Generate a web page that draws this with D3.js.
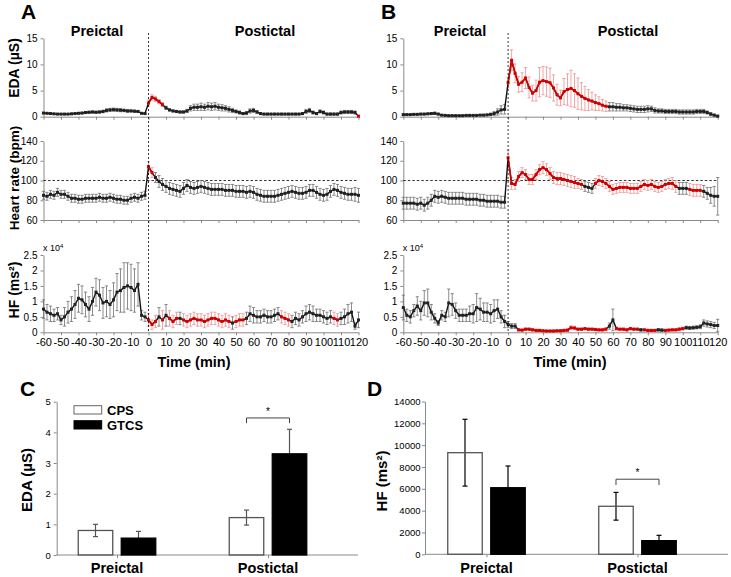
<!DOCTYPE html>
<html><head><meta charset="utf-8">
<script src="https://cdn.jsdelivr.net/npm/d3@7"></script>
<style>
body{margin:0;background:#fff}
svg{display:block}
text{font-family:"Liberation Sans",Arial,Helvetica,sans-serif}
</style>
</head><body>
<svg id="c" width="731" height="577"></svg>
<script>
// ---------- DATA ----------
// time grid (min): preictal -60..-2, postictal 0..120, every 2 min
const times = d3.range(-60, 121, 2);
const xTicks = [-60,-50,-40,-30,-20,-10,0,10,20,30,40,50,60,70,80,90,100,110,120];

// Panel A (CPS)
const A_eda_pre  = [.7,.65,.6,.55,.5,.5,.5,.5,.55,.6,.65,.7,.8,.85,.9,.85,.9,1.0,1.2,1.3,1.35,1.3,1.25,1.2,1.1,1.1,1.05,1.0,.65,.6];
const A_eda_post = [2.6,3.7,3.4,2.9,2.3,1.7,1.3,1.1,1.0,0.9, 0.9,1.1,1.6,1.8,1.8,1.9,1.8,2.0,1.9,2.0, 1.8,1.7,1.6,1.4,1.2,1.0,0.8,0.6,0.7,1.1, 1.2,0.9,0.6,0.5,0.5,0.5,0.5,0.5,0.5,0.5, 0.5,0.5,0.5,0.5,0.6,1.0,1.2,0.8,0.6,1.0, 0.8,0.5,0.5,0.5,0.5,0.8,0.9,0.9,0.9,0.8, 0.1];
const A_eda_preErr  = [.1,.1,.1,.1,.1,.1,.1,.1,.1,.1,.1,.15,.2,.2,.2,.2,.2,.25,.3,.3,.3,.3,.3,.25,.25,.2,.2,.2,.1,.1];
const A_eda_postErr = [.6,.5,.5,.4,.4,.3,.2,.2,.2,.2, .2,.3,.5,.6,.6,.7,.6,.7,.7,.7, .6,.6,.5,.5,.4,.3,.3,.2,.3,.4, .4,.3,.2,.15,.15,.15,.15,.15,.15,.15, .15,.15,.15,.15,.2,.4,.4,.3,.2,.3, .3,.2,.2,.2,.2,.3,.3,.3,.3,.3, .1];
const A_eda_red = [[0,8],[120,120]];

const A_hr_pre  = [85,84,86,85,88,86,86,84,82,82,81,81,82,82,82,82,83,82,82,83,82,81,81,80,80,82,83,82,84,85];
const A_hr_post = [114,108,103,99,96,94,92,91,90,89, 92,95,93,92,93,94,93,92,91,91, 91,91,90,90,90,89,89,89,88,89, 88,86,85,84,84,84,84,85,86,87, 88,89,88,87,87,88,90,90,88,86, 85,86,89,91,90,88,87,86,86,86, 85];
const A_hr_preErr  = [4,4,4,4,4,4,4,4,4,4,4,4,4,4,4,4,4,4,4,4,4,4,4,4,4,4,4,4,4,4];
const A_hr_postErr = [5,5,5,6,6,6,6,6,6,6, 6,6,6,6,6,6,6,6,6,6, 6,6,6,6,6,6,6,6,6,6, 6,6,6,6,6,6,6,6,6,6, 6,6,6,6,6,6,6,6,6,6, 6,6,6,6,6,6,6,6,6,7, 7];
const A_hr_red = [[0,2]];

const A_hf_pre  = [.75,.65,.6,.55,.6,.4,.5,.65,.75,.9,1.1,1.05,.9,.75,1.0,1.3,1.2,.95,1.0,.9,1.05,1.3,1.35,1.45,1.5,1.45,1.35,1.55,.55,.5];
const A_hf_post = [.4,.25,.35,.5,.4,.55,.45,.35,.45,.45, .4,.35,.4,.45,.4,.4,.35,.4,.45,.45, .4,.35,.4,.35,.3,.35,.4,.4,.45,.6, .55,.5,.5,.55,.5,.5,.55,.6,.5,.45, .4,.35,.45,.4,.5,.6,.65,.6,.55,.55, .5,.45,.5,.45,.4,.45,.5,.6,.65,.2, .4];
const A_hf_preErr  = [.3,.25,.25,.2,.2,.15,.3,.35,.4,.45,.45,.45,.4,.4,.45,.45,.5,.5,.5,.45,.55,.6,.7,.8,.75,.75,.7,.7,.15,.15];
const A_hf_postErr = [.2,.15,.2,.3,.3,.35,.25,.2,.2,.2, .2,.2,.2,.2,.2,.2,.2,.2,.2,.2, .2,.2,.2,.2,.2,.2,.2,.2,.2,.25, .25,.2,.2,.2,.2,.2,.2,.2,.2,.2, .2,.2,.2,.2,.2,.25,.25,.25,.2,.2, .2,.2,.2,.2,.2,.2,.25,.3,.3,.1, .25];
const A_hf_red = [[0,4],[8,8],[12,16],[20,32],[34,46],[50,54],[76,80],[106,108]];

// Panel B (GTCS)
const B_eda_pre  = [.4,.4,.4,.45,.45,.5,.5,.55,.6,.65,.5,.3,.25,.2,.2,.2,.2,.2,.25,.25,.25,.25,.3,.3,.35,.45,.6,.9,1.3,1.4];
const B_eda_post = [6.5,10.8,8.3,6.2,6.6,7.4,5.6,4.5,5.0,6.6, 6.9,6.7,6.5,5.5,4.2,3.6,4.8,5.2,5.4,5.0, 4.4,3.9,3.5,3.2,3.0,2.7,2.5,2.2,2.0,1.9, 1.9,1.8,1.8,1.7,1.7,1.6,1.5,1.4,1.4,1.4, 1.5,1.5,1.2,1.1,1.1,1.0,1.0,1.0,1.0,0.9, 0.9,0.9,0.9,0.9,1.0,1.0,1.0,0.8,0.5,0.3, 0.1];
const B_eda_preErr  = [.15,.15,.15,.15,.15,.15,.15,.15,.2,.2,.15,.1,.1,.1,.1,.1,.1,.1,.1,.1,.1,.1,.1,.15,.15,.2,.4,.6,.8,.9];
const B_eda_postErr = [1.0,2.0,1.8,1.5,1.8,2.0,2.0,1.5,2.0,2.8, 2.7,2.8,2.8,2.5,2.0,1.5,2.5,3.0,3.5,3.2, 3.0,2.6,2.3,2.0,1.7,1.5,1.3,1.1,1.0,0.8, 0.8,0.7,0.7,0.6,0.6,0.6,0.6,0.6,0.6,0.6, 0.6,0.5,0.5,0.4,0.4,0.4,0.4,0.4,0.4,0.4, 0.4,0.4,0.4,0.4,0.4,0.4,0.4,0.3,0.3,0.2, 0.2];
const B_eda_red = [[0,56]];

const B_hr_pre  = [77,77,77,77,76,77,75,77,80,84,83,84,83,82,82,82,82,82,81,81,81,81,80,80,79,79,79,79,78,78];
const B_hr_post = [123,97,96,104,108,106,101,101,106,111, 113,111,107,103,102,102,101,100,99,98, 97,96,94,93,92,97,100,99,97,94, 91,92,93,93,93,92,92,92,94,96, 95,96,94,93,94,96,97,97,94,92, 92,92,91,90,90,90,89,87,85,84, 84];
const B_hr_preErr  = [6,6,6,6,6,6,6,6,6,6,6,6,6,6,6,6,6,6,6,6,6,6,6,6,6,6,6,6,6,6];
const B_hr_postErr = [8,6,5,5,5,5,5,5,5,5, 6,6,6,6,6,6,6,6,6,6, 5,5,5,5,5,5,5,5,5,5, 5,5,5,5,5,5,5,5,5,5, 5,5,5,5,5,5,5,6,6,6, 6,6,6,6,6,6,6,6,8,10, 19];
const B_hr_red = [[0,42],[50,96],[104,110]];

const B_hf_pre  = [.8,.55,.5,.7,.85,.7,.95,.95,.65,.45,.3,.55,.5,.95,.9,.7,.55,.55,.55,.6,.6,.8,.75,.65,.65,.6,.7,.75,.5,.35];
const B_hf_post = [.25,.2,.2,.08,.07,.1,.1,.08,.06,.06, .05,.04,.04,.04,.05,.05,.06,.07,.15,.14, .1,.1,.12,.1,.1,.09,.08,.08,.1,.2, .4,.12,.1,.1,.08,.12,.1,.1,.08,.08, .06,.06,.06,.08,.07,.06,.07,.08,.08,.1, .12,.15,.14,.15,.16,.18,.3,.27,.25,.22, .22];
const B_hf_preErr  = [.4,.2,.2,.2,.3,.3,.4,.45,.25,.15,.08,.15,.15,.45,.35,.25,.2,.2,.2,.25,.3,.45,.35,.3,.3,.3,.35,.3,.2,.2];
const B_hf_postErr = [.1,.08,.08,.04,.04,.04,.04,.04,.04,.04, .04,.04,.04,.04,.04,.04,.04,.04,.06,.06, .04,.04,.04,.04,.04,.04,.04,.04,.05,.1, .35,.05,.04,.04,.04,.04,.04,.04,.04,.04, .04,.04,.04,.04,.04,.04,.04,.04,.04,.05, .05,.05,.05,.05,.05,.06,.1,.1,.1,.1, .2];
const B_hf_red = [[6,56],[62,74],[78,84],[90,100]];

// Panels C and D (bar charts)
const categories = ["Preictal", "Postictal"];
const groups = ["CPS", "GTCS"];
const C_means = {CPS:[0.80, 1.22], GTCS:[0.55, 3.30]};
const C_errs  = {CPS:[0.20, 0.245], GTCS:[0.22, 0.80]};
const C_ticks = [0,1,2,3,4,5];
const C_sig = {value:4.47, leg:4.30, label:"*"};
const D_means = {CPS:[9310, 4400], GTCS:[6100, 1250]};
const D_errs  = {CPS:[3060, 1270], GTCS:[1990, 490]};
const D_ticks = [0,2000,4000,6000,8000,10000,12000,14000];
const D_sig = {value:6880, leg:6350, label:"*"};

// ---------- DRAWING ----------
const svg = d3.select("#c");
svg.append("rect").attr("width",731).attr("height",577).attr("fill","#fff");

const AX = "#8a8a8a";
function styleAxis(g, fs){
  g.selectAll(".domain").attr("stroke", AX).attr("stroke-width", 1);
  g.selectAll(".tick line").attr("stroke", AX);
  g.selectAll(".tick text").attr("fill", "#000").style("font-size", fs + "px");
}

const rows = [
  {key:"eda", domain:[0,15], range:[116.7,38.3], ticks:[0,5,10,15]},
  {key:"hr",  domain:[60,140], range:[220,141], ticks:[60,80,100,120,140]},
  {key:"hf",  domain:[0,2.5], range:[332.3,255], ticks:[0,0.5,1,1.5,2,2.5]}
];

const panels = [
  {name:"A", xr:[43.5,358.5], letterX:21,
   series:{
     eda:{pre:A_eda_pre, post:A_eda_post, preE:A_eda_preErr, postE:A_eda_postErr, red:A_eda_red},
     hr:{pre:A_hr_pre, post:A_hr_post, preE:A_hr_preErr, postE:A_hr_postErr, red:A_hr_red},
     hf:{pre:A_hf_pre, post:A_hf_post, preE:A_hf_preErr, postE:A_hf_postErr, red:A_hf_red}},
   titles:[97,265], timeX:194, yTitles:true},
  {name:"B", xr:[403.3,717.7], letterX:381,
   series:{
     eda:{pre:B_eda_pre, post:B_eda_post, preE:B_eda_preErr, postE:B_eda_postErr, red:B_eda_red},
     hr:{pre:B_hr_pre, post:B_hr_post, preE:B_hr_preErr, postE:B_hr_postErr, red:B_hr_red},
     hf:{pre:B_hf_pre, post:B_hf_post, preE:B_hf_preErr, postE:B_hf_postErr, red:B_hf_red}},
   titles:[460,628], timeX:570, yTitles:false}
];

const inRed = (t, ranges) => t >= 0 && ranges.some(([a,b]) => t >= a && t <= b);

panels.forEach(P => {
  const x = d3.scaleLinear([-60,120], P.xr);
  const g = svg.append("g");
  rows.forEach(R => {
    const y = d3.scaleLinear(R.domain, R.range);
    const S = P.series[R.key];
    const m = S.pre.concat(S.post), e = S.preE.concat(S.postE);
    const data = times.map((t,i) => ({t, m:m[i], e:e[i], red: inRed(t, S.red)}))
                      .filter(d => d.m !== undefined);
    // axes
    g.append("g").attr("transform",`translate(${P.xr[0]},0)`)
      .call(d3.axisLeft(y).tickValues(R.ticks).tickSize(3).tickSizeOuter(0).tickPadding(3).tickFormat(d=>String(d)))
      .call(a=>styleAxis(a,10));
    g.append("g").attr("transform",`translate(0,${R.range[0]})`)
      .call(d3.axisBottom(x).tickValues(xTicks).tickSize(3).tickSizeOuter(0).tickPadding(3)
        .tickFormat(R.key==="hf" ? (d=>String(d)) : (()=>"")))
      .call(a=>styleAxis(a,11));
    if (R.key === "hr") {
      g.append("line").attr("x1",x(-60)).attr("x2",x(120)).attr("y1",y(100)).attr("y2",y(100))
        .attr("stroke","#000").attr("stroke-width",0.8).attr("stroke-dasharray","2.5,2");
    }
    const lo = R.domain[0];
    // error bars
    const eb = g.append("g");
    data.forEach(d => {
      const c = d.red ? "#ef8f8f" : "#6e6e6e";
      const yt = y(d.m + d.e), yb = y(Math.max(lo, d.m - d.e));
      const xx = x(d.t);
      eb.append("line").attr("x1",xx).attr("x2",xx).attr("y1",yt).attr("y2",yb).attr("stroke",c).attr("stroke-width",0.8);
      eb.append("line").attr("x1",xx-1.6).attr("x2",xx+1.6).attr("y1",yt).attr("y2",yt).attr("stroke",c).attr("stroke-width",0.8);
      eb.append("line").attr("x1",xx-1.6).attr("x2",xx+1.6).attr("y1",yb).attr("y2",yb).attr("stroke",c).attr("stroke-width",0.8);
    });
    // lines
    const line = d3.line().x(d=>x(d.t)).y(d=>y(d.m));
    g.append("path").datum(data).attr("d",line).attr("fill","none").attr("stroke","#111").attr("stroke-width",1.4);
    g.append("path").datum(data).attr("d",line.defined(d=>d.red)).attr("fill","none").attr("stroke","#d40000").attr("stroke-width",1.7);
    // markers
    g.append("g").selectAll("rect").data(data).join("rect")
      .attr("x",d=>x(d.t)-1.5).attr("y",d=>y(d.m)-1.5).attr("width",3).attr("height",3)
      .attr("fill",d=>d.red?"#d40000":"#222");
  });
  // vertical dashed line at seizure onset
  g.append("line").attr("x1",x(0)).attr("x2",x(0)).attr("y1",33).attr("y2",332.3)
    .attr("stroke","#000").attr("stroke-width",0.8).attr("stroke-dasharray","2,2");
  // titles
  g.append("text").attr("x",P.letterX).attr("y",19).text(P.name).style("font-size","21px").style("font-weight","bold");
  g.append("text").attr("x",P.titles[0]).attr("y",36).attr("text-anchor","middle").text("Preictal").style("font-size","14.5px").style("font-weight","bold");
  g.append("text").attr("x",P.titles[1]).attr("y",36).attr("text-anchor","middle").text("Postictal").style("font-size","14.5px").style("font-weight","bold");
  g.append("text").attr("x",P.timeX).attr("y",367).attr("text-anchor","middle").text("Time (min)").style("font-size","14.5px").style("font-weight","bold");
  const ex = g.append("text").attr("x",P.xr[0]-0.5).attr("y",251).style("font-size","9px").text("x 10");
  ex.append("tspan").attr("dy",-3.5).style("font-size","6px").text("4");
  if (P.yTitles) {
    [["EDA (µS)",68,14],["Heart rate (bpm)",178,13.5],["HF (ms²)",290,14]].forEach(([t,cy,fs]) => {
      g.append("text").attr("transform",`translate(19,${cy}) rotate(-90)`).attr("text-anchor","middle")
        .text(t).style("font-size",fs+"px").style("font-weight","bold");
    });
  }
});

// ---------- bar panels ----------
function barPanel(o){
  const g = svg.append("g");
  const y = d3.scaleLinear(o.domain, o.yr);
  const xc = d3.scalePoint(categories, o.centers);
  const xs = d3.scaleBand(groups, [-38.75, 38.75]).paddingInner(0.198);
  g.append("g").attr("transform",`translate(${o.axisX},0)`)
    .call(d3.axisLeft(y).tickValues(o.ticks).tickSize(3).tickSizeOuter(0).tickPadding(o.pad).tickFormat(d=>String(d)))
    .call(a=>styleAxis(a,o.fs));
  g.append("line").attr("x1",o.axisX).attr("x2",o.axisEnd).attr("y1",o.yr[0]).attr("y2",o.yr[0]).attr("stroke",AX);
  const xa = g.append("g").attr("transform",`translate(0,${o.yr[0]})`)
    .call(d3.axisBottom(xc).tickSize(3).tickSizeOuter(0).tickFormat(()=>""));
  xa.select(".domain").remove();
  xa.selectAll(".tick line").attr("stroke",AX);
  categories.forEach((c,i) => {
    groups.forEach(gr => {
      const x0 = xc(c) + xs(gr), w = xs.bandwidth();
      const v = o.means[gr][i], e = o.errs[gr][i];
      const xm = x0 + w/2;
      g.append("line").attr("x1",xm).attr("x2",xm).attr("y1",y(v+e)).attr("y2",y(v-e)).attr("stroke",o.ebc).attr("stroke-width",1.2);
      g.append("line").attr("x1",xm-2.5).attr("x2",xm+2.5).attr("y1",y(v+e)).attr("y2",y(v+e)).attr("stroke",o.ebc).attr("stroke-width",1.2);
      g.append("line").attr("x1",xm-2.5).attr("x2",xm+2.5).attr("y1",y(v-e)).attr("y2",y(v-e)).attr("stroke",o.ebc).attr("stroke-width",1.2);
      g.append("rect").attr("x",x0).attr("y",y(v)).attr("width",w).attr("height",y(o.domain[0])-y(v))
        .attr("fill", gr==="CPS" ? "none" : "#000").attr("stroke", gr==="CPS" ? "#555" : "#000").attr("stroke-width",1.3);
    });
    g.append("text").attr("x",xc(c)).attr("y",o.catY).attr("text-anchor","middle").text(c)
      .style("font-size","14.5px").style("font-weight","bold");
  });
  // significance bracket on postictal
  const xa1 = xc("Postictal") + xs("CPS") + xs.bandwidth()/2, xa2 = xc("Postictal") + xs("GTCS") + xs.bandwidth()/2;
  g.append("path").attr("d",`M${xa1},${y(o.sig.leg)}V${y(o.sig.value)}H${xa2}V${y(o.sig.leg)}`)
    .attr("fill","none").attr("stroke","#444").attr("stroke-width",1);
  g.append("text").attr("x",(xa1+xa2)/2).attr("y",y(o.sig.value)-3).attr("text-anchor","middle").text(o.sig.label).style("font-size","10px");
  g.append("text").attr("x",o.letterX).attr("y",o.letterY).text(o.letter).style("font-size","21px").style("font-weight","bold");
  g.append("text").attr("transform",`translate(${o.ytX},${o.ytY}) rotate(-90)`).attr("text-anchor","middle")
    .text(o.ytitle).style("font-size","15px").style("font-weight","bold");
  return g;
}

const gC = barPanel({domain:[0,5], yr:[555,401.7], centers:[117,268], axisX:56.7, axisEnd:358, ticks:C_ticks, pad:3, fs:9.5,
  means:C_means, errs:C_errs, ebc:"#555", catY:573, sig:C_sig, letter:"C", letterX:20, letterY:396,
  ytitle:"EDA (µS)", ytX:32, ytY:480});
// legend for C
groups.forEach((gr,i) => {
  gC.append("rect").attr("x",74).attr("y",405.7 + i*15).attr("width",27.7).attr("height",8.3)
    .attr("fill", gr==="CPS" ? "#fff" : "#000").attr("stroke", gr==="CPS" ? "#666" : "#000");
  gC.append("text").attr("x",107).attr("y",414.5 + i*15).text(gr).style("font-size","13px").style("font-weight","bold");
});

barPanel({domain:[0,14000], yr:[554.3,401.5], centers:[486.5,637.5], axisX:425, axisEnd:728, ticks:D_ticks, pad:1.5, fs:9.5,
  means:D_means, errs:D_errs, ebc:"#000", catY:573, sig:D_sig, letter:"D", letterX:367, letterY:396,
  ytitle:"HF (ms²)", ytX:387, ytY:481});
</script>
</body></html>
